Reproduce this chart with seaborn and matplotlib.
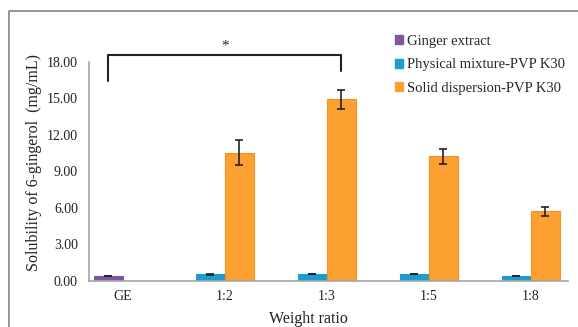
import numpy as np
import pandas as pd
import matplotlib.pyplot as plt
import seaborn as sns
from matplotlib.patches import Patch
from matplotlib.lines import Line2D

# values
ratios = ['GE', '1:2', '1:3', '1:5', '1:8']
series = ['Ginger extract', 'Physical mixture-PVP K30', 'Solid dispersion-PVP K30']
ginger = [0.42, None, None, None, None]
ginger_err = [0.03, None, None, None, None]
physical = [None, 0.55, 0.57, 0.58, 0.42]
physical_err = [None, 0.03, 0.03, 0.03, 0.03]
solid = [None, 10.55, 14.95, 10.24, 5.72]
solid_err = [None, 1.00, 0.78, 0.63, 0.38]

colors = {'Ginger extract': '#7F56A5',
          'Physical mixture-PVP K30': '#1C9DD2',
          'Solid dispersion-PVP K30': '#FCA032'}

# build long table: ginger/physical share the left slot, solid the right one
rows = []
for i, r in enumerate(ratios):
    for name, vals, errs, slot in [(series[0], ginger, ginger_err, 'left'),
                                   (series[1], physical, physical_err, 'left'),
                                   (series[2], solid, solid_err, 'right')]:
        if vals[i] is not None:
            rows.append({'ratio': r, 'series': name, 'value': vals[i], 'err': errs[i], 'slot': slot})
df = pd.DataFrame(rows)

sns.set_style('white')
plt.rcParams['font.family'] = ['Liberation Serif', 'DejaVu Serif']

fig = plt.figure(figsize=(5.78, 3.27), dpi=100)
ax = fig.add_axes([0.154, 0.1407, 0.829, 0.6697])

sns.barplot(data=df, x='ratio', y='value', hue='slot', order=ratios,
            hue_order=['left', 'right'], palette={'left': colors[series[1]], 'right': colors[series[2]]},
            width=0.57, dodge=True, errorbar=None, saturation=1, legend=False, ax=ax)

# recolor bars by series and add error bars
bar_pos = {}
for cont, slot in zip(ax.containers, ['left', 'right']):
    for p in cont.patches:
        h = p.get_height()
        if np.isnan(h):
            continue
        xc = p.get_x() + p.get_width() / 2
        cat = ratios[int(round(xc))]
        row = df[(df['ratio'] == cat) & (df['slot'] == slot)].iloc[0]
        p.set_facecolor(colors[row['series']])
        p.set_edgecolor('#F39020' if row['series'] == series[2] else colors[row['series']])
        p.set_linewidth(0.8)
        ax.errorbar(xc, row['value'], yerr=row['err'], fmt='none', ecolor='#222222',
                    elinewidth=1.2, capsize=3, capthick=1.2)
        bar_pos[(cat, slot)] = xc

ax.set_ylim(0, 18)
ax.set_yticks(np.arange(0, 18.1, 3))
ax.set_yticklabels([f'{v:.2f}' for v in np.arange(0, 18.1, 3)])
ax.set_xlim(-0.33, 4.366)
ax.tick_params(axis='both', length=0, labelsize=10, colors='#222222')
ax.tick_params(axis='y', pad=8)
ax.tick_params(axis='x', pad=6.5)

sns.despine(ax=ax)
for s in ['left', 'bottom']:
    ax.spines[s].set_color('#A6A6A6')
    ax.spines[s].set_linewidth(1.2)

ax.set_xlabel('Weight ratio', fontsize=11.5, color='#222222')
ax.set_ylabel('Solubility of 6-gingerol  (mg/mL)', fontsize=11.5, color='#222222')
ax.xaxis.set_label_coords(0.457, -0.135)
ax.yaxis.set_label_coords(-0.098, 0.543)

# significance bracket between GE and 1:3 solid dispersion
x1 = bar_pos[('GE', 'left')]
x2 = bar_pos[('1:3', 'right')]
ax.plot([x1, x1, x2, x2], [16.43, 18.57, 18.57, 17.26], color='#222222', lw=1.5, clip_on=False)
ax.text((x1 + x2) / 2, 19.3, '*', ha='center', va='center', fontsize=11, color='#222222')

# legend
handles = [Patch(facecolor=colors[s], edgecolor=colors[s], label=s) for s in series]
fig.legend(handles=handles, loc='upper left', bbox_to_anchor=(0.683, 0.893), frameon=False,
           fontsize=10.5, handlelength=0.55, handleheight=0.55, handletextpad=0.3,
           labelspacing=0.72, borderaxespad=0, borderpad=0)

# outer frame line of the figure (top and left only visible)
fig.add_artist(Line2D([0.0156, 0.0156, 1.0], [0.0, 0.966, 0.966], color='#8C8C8C', lw=1.3,
                      transform=fig.transFigure))

plt.savefig('out.png', dpi=100)
